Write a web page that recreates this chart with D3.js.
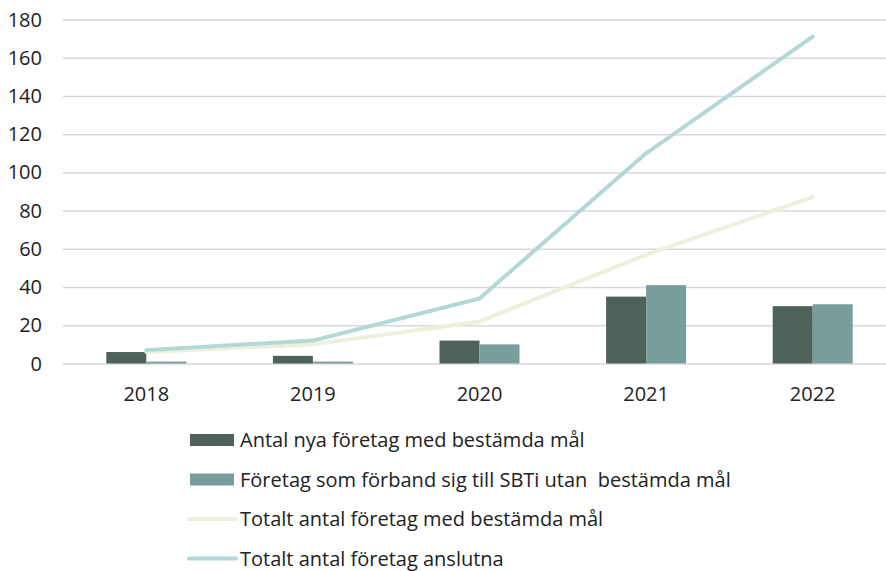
<!DOCTYPE html>
<html lang="sv">
<head>
    <meta charset="utf-8"/>
    <style>
        body { margin: 0; background: #fff; }
        svg { display: block; }
        text { font-family: "Open Sans", "Noto Sans", sans-serif; fill: #222; }
        .grid line { stroke: #d9d9d9; stroke-width: 1.5px; }
        .grid .domain { display: none; }
    </style>
    <script src="https://d3js.org/d3.v7.min.js" charset="utf-8"></script>
</head>
<body>
<svg id="chart" width="886" height="571"></svg>
<script>
    // data
    var years = ['2018', '2019', '2020', '2021', '2022'];
    var nyaMal = [6, 4, 12, 35, 30];            // Antal nya företag med bestämda mål
    var utanMal = [1, 1, 10, 41, 31];           // Företag som förband sig till SBTi utan bestämda mål
    var totaltMal = [6, 10, 22, 57, 87];        // Totalt antal företag med bestämda mål
    var totaltAnslutna = [7, 12, 34, 110, 171]; // Totalt antal företag anslutna
    var yTicks = [0, 20, 40, 60, 80, 100, 120, 140, 160, 180];

    var seriesNames = [
        'Antal nya företag med bestämda mål',
        'Företag som förband sig till SBTi utan  bestämda mål',
        'Totalt antal företag med bestämda mål',
        'Totalt antal företag anslutna'
    ];
    var colors = ['#4f625a', '#789e9b', '#eef0dc', '#b3d8d5'];

    var svg = d3.select('#chart');

    var x = d3.scaleBand().domain(years).range([63, 896]);
    var y = d3.scaleLinear().domain([0, 180]).range([363.5, 19.5]);

    // gridlines
    svg.append('g')
        .attr('class', 'grid')
        .attr('transform', 'translate(63,0)')
        .call(d3.axisLeft(y).tickValues(yTicks).tickSize(-833).tickFormat(''))
        .call(function(g) { g.selectAll('.tick line').attr('x1', 0); });

    // y labels
    svg.append('g').selectAll('text')
        .data(yTicks)
        .enter().append('text')
        .attr('x', 42)
        .attr('y', function(d) { return y(d); })
        .attr('dy', '0.35em')
        .attr('text-anchor', 'end')
        .style('font-size', '20px')
        .text(function(d) { return d; });

    // x labels
    svg.append('g').selectAll('text')
        .data(years)
        .enter().append('text')
        .attr('x', function(d) { return x(d) + x.bandwidth() / 2; })
        .attr('y', 401)
        .attr('text-anchor', 'middle')
        .style('font-size', '20px')
        .text(function(d) { return d; });

    // bars
    var barW = 40;
    var barSeries = [nyaMal, utanMal];
    barSeries.forEach(function(vals, i) {
        svg.append('g').selectAll('rect')
            .data(vals)
            .enter().append('rect')
            .attr('x', function(d, j) { return x(years[j]) + x.bandwidth() / 2 - barW + i * barW; })
            .attr('y', function(d) { return y(d); })
            .attr('width', barW)
            .attr('height', function(d) { return y(0) - y(d); })
            .attr('fill', colors[i]);
    });

    // lines
    var line = d3.line()
        .x(function(d, j) { return x(years[j]) + x.bandwidth() / 2; })
        .y(function(d) { return y(d); });
    [totaltMal, totaltAnslutna].forEach(function(vals, i) {
        svg.append('path')
            .attr('d', line(vals))
            .attr('fill', 'none')
            .attr('stroke', colors[i + 2])
            .attr('stroke-width', 4)
            .attr('stroke-linecap', 'round')
            .attr('stroke-linejoin', 'round');
    });

    // legend
    var legend = svg.append('g').selectAll('g')
        .data(seriesNames)
        .enter().append('g')
        .attr('transform', function(d, i) { return 'translate(0,' + (440 + i * 39.5) + ')'; });
    legend.each(function(d, i) {
        var g = d3.select(this);
        if (i < 2) {
            g.append('rect').attr('x', 190).attr('y', -6).attr('width', 44).attr('height', 12).attr('fill', colors[i]);
        } else {
            g.append('line').attr('x1', 189).attr('x2', 236).attr('y1', 0).attr('y2', 0)
                .attr('stroke', colors[i]).attr('stroke-width', 4).attr('stroke-linecap', 'round');
        }
        g.append('text')
            .attr('x', 240)
            .attr('y', 0)
            .attr('dy', '0.35em')
            .style('font-size', '20px')
            .style('white-space', 'pre')
            .text(d);
    });
</script>
</body>
</html>
